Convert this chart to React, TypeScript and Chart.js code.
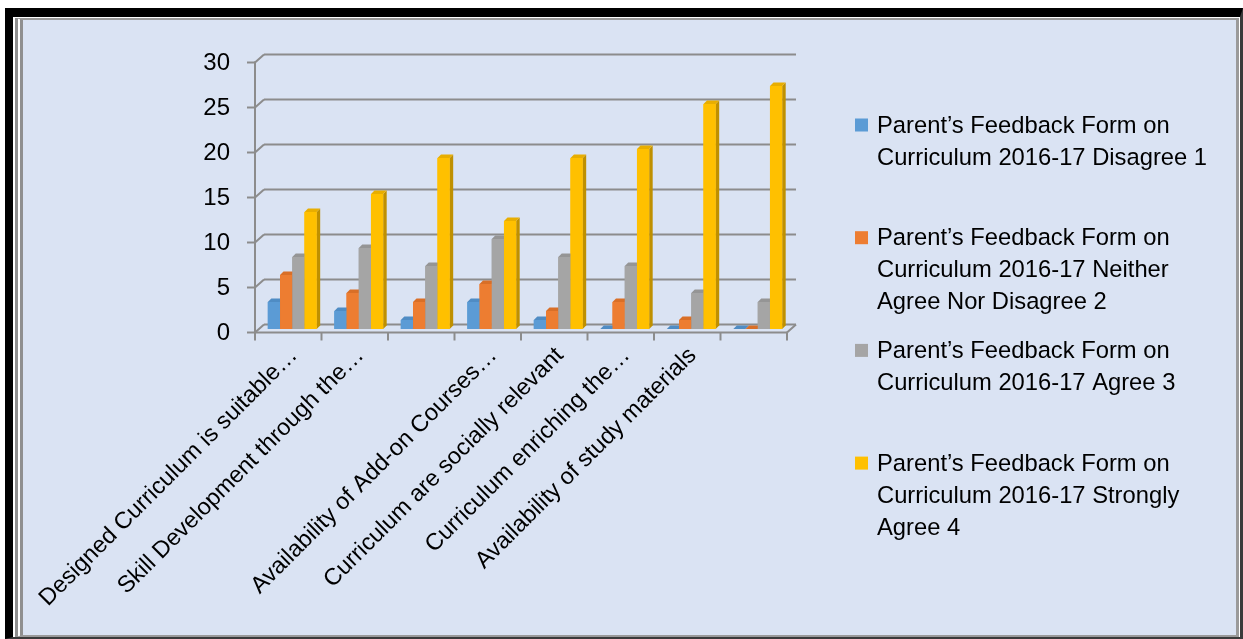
import React, { useEffect, useRef } from "react";
import { Chart, registerables } from "chart.js";

Chart.register(...registerables);

// ---------- data ----------
const categories = [
  "Designed Curriculum is suitable…",
  "Skill Development through the…",
  "",
  "Availability of Add-on Courses…",
  "Curriculum are socially relevant",
  "Curriculum enriching the…",
  "Availability of study materials",
  "",
];
const seriesNames = [
  "Parent’s Feedback Form on Curriculum 2016-17 Disagree 1",
  "Parent’s Feedback Form on Curriculum 2016-17 Neither Agree Nor Disagree 2",
  "Parent’s Feedback Form on Curriculum 2016-17 Agree 3",
  "Parent’s Feedback Form on Curriculum 2016-17 Strongly Agree 4",
];
const disagree = [3, 2, 1, 3, 1, 0, 0, 0];
const neither = [6, 4, 3, 5, 2, 3, 1, 0];
const agree = [8, 9, 7, 10, 8, 7, 4, 3];
const stronglyAgree = [13, 15, 19, 12, 19, 20, 25, 27];
const yTicks = [0, 5, 10, 15, 20, 25, 30];

// ---------- styles ----------
const frontColors = ["#5b9bd5", "#ed7d31", "#a5a5a5", "#ffc000"];
const topColors = ["#4f8cc4", "#d96f27", "#959595", "#e8ae00"];
const sideColors = ["#3f72a0", "#b3591c", "#7b7b7b", "#bf9000"];

const FDX = -4; // front plane offset
const FDY = 3.5;
const BDX = 5; // back wall offset
const BDY = -4.5;
const DEPTH = 3.5;
const FONT = '"Liberation Sans", Arial, sans-serif';

const wallPlugin = {
  id: "wall3d",
  beforeDatasetsDraw(chart: any) {
    const ctx = chart.ctx as CanvasRenderingContext2D;
    const { left, right } = chart.chartArea;
    const ys = chart.scales.y;
    const xs = chart.scales.x;
    ctx.save();
    ctx.strokeStyle = "#8c8c8c";
    ctx.lineWidth = 2;
    const line = (x1: number, y1: number, x2: number, y2: number) => {
      ctx.beginPath();
      ctx.moveTo(x1, y1);
      ctx.lineTo(x2, y2);
      ctx.stroke();
    };
    for (const v of yTicks) {
      const yy = ys.getPixelForValue(v);
      line(left + BDX, yy + BDY, right + BDX, yy + BDY);
      line(left + FDX, yy + FDY, left + BDX, yy + BDY);
      line(left + FDX - 8, yy + FDY, left + FDX, yy + FDY);
    }
    const y0 = ys.getPixelForValue(0);
    const yTop = ys.getPixelForValue(yTicks[yTicks.length - 1]);
    line(left + FDX, yTop + FDY - 1, left + FDX, y0 + FDY + 1);
    line(left + FDX, y0 + FDY, right + FDX, y0 + FDY);
    line(right + FDX, y0 + FDY, right + BDX, y0 + BDY);
    const n = categories.length;
    for (let i = 0; i <= n; i++) {
      const xb =
        i === 0
          ? left
          : i === n
          ? right
          : (xs.getPixelForValue(i - 1) + xs.getPixelForValue(i)) / 2;
      line(xb + FDX, y0 + FDY, xb + FDX, y0 + FDY + 8);
    }

    // y tick labels
    ctx.fillStyle = "#000";
    ctx.font = `24px ${FONT}`;
    ctx.textAlign = "right";
    ctx.textBaseline = "middle";
    for (const v of yTicks) {
      ctx.fillText(String(v), left + FDX - 25, ys.getPixelForValue(v) + FDY + 1);
    }

    // x category labels (rotated)
    ctx.font = `23.5px ${FONT}`;
    ctx.textBaseline = "alphabetic";
    categories.forEach((c, i) => {
      if (!c) return;
      const cx = xs.getPixelForValue(i) + FDX;
      ctx.save();
      ctx.translate(cx + 10, y0 + FDY + 24);
      ctx.rotate(-Math.PI / 4);
      ctx.fillText(c, 0, 0);
      ctx.restore();
    });
    ctx.restore();
  },
  afterDatasetsDraw(chart: any) {
    const ctx = chart.ctx as CanvasRenderingContext2D;
    const nSets = chart.data.datasets.length;
    ctx.save();
    for (let j = 0; j < categories.length; j++) {
      for (let i = 0; i < nSets; i++) {
        const el = chart.getDatasetMeta(i).data[j];
        const { x, y, base, width } = el.getProps(["x", "y", "base", "width"], true);
        const l = x - width / 2;
        const r = x + width / 2;
        // side face
        ctx.fillStyle = sideColors[i];
        ctx.beginPath();
        ctx.moveTo(r, y);
        ctx.lineTo(r + DEPTH, y - DEPTH);
        ctx.lineTo(r + DEPTH, base - DEPTH);
        ctx.lineTo(r, base);
        ctx.closePath();
        ctx.fill();
        // top face
        ctx.fillStyle = topColors[i];
        ctx.beginPath();
        ctx.moveTo(l, y);
        ctx.lineTo(l + DEPTH, y - DEPTH);
        ctx.lineTo(r + DEPTH, y - DEPTH);
        ctx.lineTo(r, y);
        ctx.closePath();
        ctx.fill();
        // front face
        ctx.fillStyle = chart.data.datasets[i].backgroundColor;
        ctx.fillRect(l, y, width, base - y);
      }
    }
    ctx.restore();
  },
  afterDraw(chart: any) {
    const ctx = chart.ctx as CanvasRenderingContext2D;
    const markerX = 855;
    const textX = 877;
    const startY = 125;
    const itemGap = 112.7;
    const lineH = 32;
    const maxW = 345;
    ctx.save();
    ctx.font = `23.75px ${FONT}`;
    ctx.textAlign = "left";
    ctx.textBaseline = "middle";
    chart.data.datasets.forEach((ds: any, i: number) => {
      const words = String(ds.label).split(" ");
      const lines: string[] = [];
      let cur = "";
      for (const w of words) {
        const test = cur ? cur + " " + w : w;
        if (cur && ctx.measureText(test).width > maxW) {
          lines.push(cur);
          cur = w;
        } else cur = test;
      }
      if (cur) lines.push(cur);
      const y = startY + i * itemGap;
      ctx.fillStyle = ds.backgroundColor;
      ctx.fillRect(markerX, y - 6.5, 13, 13);
      ctx.fillStyle = "#000";
      lines.forEach((ln, k) => ctx.fillText(ln, textX, y + k * lineH + 1));
    });
    ctx.restore();
  },
};

export default function App() {
  const ref = useRef<HTMLCanvasElement | null>(null);
  useEffect(() => {
    if (!ref.current) return;
    const series = [disagree, neither, agree, stronglyAgree];
    const chart = new Chart(ref.current, {
      type: "bar",
      data: {
        labels: categories,
        datasets: series.map((d, i) => ({
          label: seriesNames[i],
          data: d,
          backgroundColor: frontColors[i],
          borderWidth: 0,
          categoryPercentage: 0.735,
          barPercentage: 1,
        })),
      },
      options: {
        responsive: false,
        animation: false,
        layout: { padding: { left: 259, right: 452, top: 59, bottom: 310 } },
        scales: {
          x: { display: false, offset: true },
          y: { display: false, min: 0, max: 30 },
        },
        plugins: {
          legend: { display: false },
          tooltip: { enabled: false },
        },
      },
      plugins: [wallPlugin],
    });
    return () => chart.destroy();
  }, []);

  return (
    <div
      style={{
        position: "fixed",
        left: 0,
        top: 0,
        width: 1243,
        height: 639,
        background: "#fff",
        overflow: "hidden",
      }}
    >
      <div
        style={{
          position: "absolute",
          left: 5,
          top: 8,
          width: 1238,
          height: 631,
          boxSizing: "border-box",
          borderLeft: "8px solid #000",
          borderTop: "9px solid #000",
          borderRight: "3px solid #3a3a3a",
          borderBottom: "2px solid #3a3a3a",
          background: "#fff",
        }}
      >
        <div
          style={{
            position: "absolute",
            left: 2,
            top: 1,
            right: 1,
            bottom: 0,
            boxSizing: "border-box",
            borderLeft: "8px double #8f8f8f",
            borderTop: "2px solid #9a9a9a",
            borderRight: "3px solid #9a9a9a",
            borderBottom: "2px solid #9a9a9a",
            background: "#dae3f3",
            backgroundClip: "padding-box",
          }}
        />
      </div>
      <canvas
        ref={ref}
        width={1243}
        height={639}
        style={{ position: "absolute", left: 0, top: 0, width: 1243, height: 639 }}
      />
    </div>
  );
}
